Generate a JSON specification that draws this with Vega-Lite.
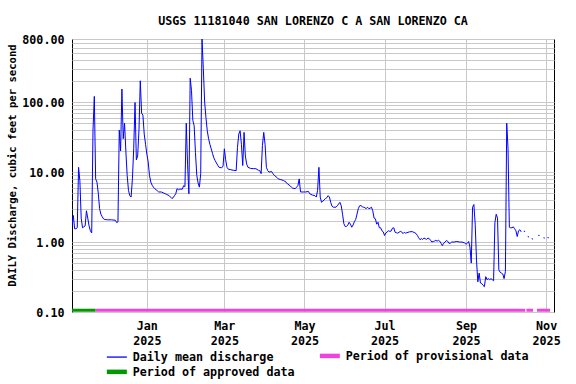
{
  "$schema": "https://vega.github.io/schema/vega-lite/v6.json",
  "width": 482,
  "height": 273,
  "autosize": "none",
  "padding": {"left": 72, "top": 39, "right": 22, "bottom": 72},
  "background": "white",
  "title": {"text": "USGS 11181040 SAN LORENZO C A SAN LORENZO CA", "font": "DejaVu Sans Mono", "fontSize": 11.7, "fontWeight": "bold", "color": "black", "anchor": "middle", "offset": 15, "dy": 18, "baseline": "alphabetic"},
  "datasets": {
    "flow": [
      {"date": "2024-11-05", "cfs": 1.7}, {"date": "2024-11-06", "cfs": 2.4}, {"date": "2024-11-07", "cfs": 1.55}, {"date": "2024-11-08", "cfs": 1.55},
      {"date": "2024-11-09", "cfs": 1.6}, {"date": "2024-11-10", "cfs": 11.7}, {"date": "2024-11-11", "cfs": 7.5}, {"date": "2024-11-12", "cfs": 2.2},
      {"date": "2024-11-13", "cfs": 1.6}, {"date": "2024-11-14", "cfs": 1.65}, {"date": "2024-11-15", "cfs": 1.7}, {"date": "2024-11-16", "cfs": 2.8},
      {"date": "2024-11-17", "cfs": 2.2}, {"date": "2024-11-18", "cfs": 1.7}, {"date": "2024-11-19", "cfs": 1.45}, {"date": "2024-11-20", "cfs": 1.35},
      {"date": "2024-11-21", "cfs": 40}, {"date": "2024-11-22", "cfs": 121}, {"date": "2024-11-23", "cfs": 8}, {"date": "2024-11-24", "cfs": 7.2},
      {"date": "2024-11-25", "cfs": 5.0}, {"date": "2024-11-26", "cfs": 3.0}, {"date": "2024-11-27", "cfs": 2.5}, {"date": "2024-11-28", "cfs": 2.3},
      {"date": "2024-11-29", "cfs": 2.15}, {"date": "2024-11-30", "cfs": 2.1}, {"date": "2024-12-02", "cfs": 2.08}, {"date": "2024-12-05", "cfs": 2.08},
      {"date": "2024-12-08", "cfs": 2.05}, {"date": "2024-12-09", "cfs": 1.9}, {"date": "2024-12-10", "cfs": 1.95}, {"date": "2024-12-11", "cfs": 40},
      {"date": "2024-12-12", "cfs": 20}, {"date": "2024-12-13", "cfs": 154}, {"date": "2024-12-14", "cfs": 30}, {"date": "2024-12-15", "cfs": 50},
      {"date": "2024-12-16", "cfs": 20}, {"date": "2024-12-17", "cfs": 9}, {"date": "2024-12-18", "cfs": 5.5}, {"date": "2024-12-19", "cfs": 4.6},
      {"date": "2024-12-20", "cfs": 4.4}, {"date": "2024-12-21", "cfs": 8}, {"date": "2024-12-22", "cfs": 22}, {"date": "2024-12-23", "cfs": 99},
      {"date": "2024-12-24", "cfs": 15}, {"date": "2024-12-25", "cfs": 17}, {"date": "2024-12-26", "cfs": 40}, {"date": "2024-12-27", "cfs": 202},
      {"date": "2024-12-28", "cfs": 70}, {"date": "2024-12-29", "cfs": 65}, {"date": "2024-12-30", "cfs": 35}, {"date": "2024-12-31", "cfs": 25},
      {"date": "2025-01-01", "cfs": 18}, {"date": "2025-01-02", "cfs": 14}, {"date": "2025-01-03", "cfs": 9}, {"date": "2025-01-04", "cfs": 7.2},
      {"date": "2025-01-05", "cfs": 6.5}, {"date": "2025-01-06", "cfs": 6.1}, {"date": "2025-01-07", "cfs": 5.8}, {"date": "2025-01-08", "cfs": 5.6},
      {"date": "2025-01-09", "cfs": 5.4}, {"date": "2025-01-10", "cfs": 5.2}, {"date": "2025-01-12", "cfs": 5.2}, {"date": "2025-01-14", "cfs": 5.0},
      {"date": "2025-01-16", "cfs": 4.8}, {"date": "2025-01-18", "cfs": 4.6}, {"date": "2025-01-20", "cfs": 4.2}, {"date": "2025-01-21", "cfs": 4.3},
      {"date": "2025-01-22", "cfs": 4.6}, {"date": "2025-01-23", "cfs": 4.9}, {"date": "2025-01-24", "cfs": 5.8}, {"date": "2025-01-25", "cfs": 5.6},
      {"date": "2025-01-26", "cfs": 5.7}, {"date": "2025-01-28", "cfs": 5.7}, {"date": "2025-01-29", "cfs": 6.4}, {"date": "2025-01-30", "cfs": 6.2},
      {"date": "2025-01-31", "cfs": 50}, {"date": "2025-02-01", "cfs": 13}, {"date": "2025-02-02", "cfs": 4.9}, {"date": "2025-02-03", "cfs": 220},
      {"date": "2025-02-04", "cfs": 146}, {"date": "2025-02-05", "cfs": 55}, {"date": "2025-02-06", "cfs": 46}, {"date": "2025-02-07", "cfs": 19},
      {"date": "2025-02-08", "cfs": 9}, {"date": "2025-02-09", "cfs": 7}, {"date": "2025-02-10", "cfs": 6.1}, {"date": "2025-02-11", "cfs": 9.5},
      {"date": "2025-02-12", "cfs": 800}, {"date": "2025-02-13", "cfs": 300}, {"date": "2025-02-14", "cfs": 100}, {"date": "2025-02-15", "cfs": 60},
      {"date": "2025-02-16", "cfs": 39}, {"date": "2025-02-17", "cfs": 30}, {"date": "2025-02-18", "cfs": 25}, {"date": "2025-02-19", "cfs": 21.5},
      {"date": "2025-02-20", "cfs": 18.5}, {"date": "2025-02-21", "cfs": 16}, {"date": "2025-02-22", "cfs": 14.6}, {"date": "2025-02-23", "cfs": 13.5},
      {"date": "2025-02-24", "cfs": 12.5}, {"date": "2025-02-25", "cfs": 11.7}, {"date": "2025-02-27", "cfs": 11.5}, {"date": "2025-02-28", "cfs": 12.2},
      {"date": "2025-03-01", "cfs": 21.5}, {"date": "2025-03-02", "cfs": 15}, {"date": "2025-03-03", "cfs": 11.7}, {"date": "2025-03-04", "cfs": 11},
      {"date": "2025-03-06", "cfs": 10.8}, {"date": "2025-03-08", "cfs": 10.6}, {"date": "2025-03-10", "cfs": 10.5}, {"date": "2025-03-11", "cfs": 22.6},
      {"date": "2025-03-12", "cfs": 35}, {"date": "2025-03-13", "cfs": 39}, {"date": "2025-03-14", "cfs": 25}, {"date": "2025-03-15", "cfs": 12.4},
      {"date": "2025-03-16", "cfs": 37}, {"date": "2025-03-17", "cfs": 17}, {"date": "2025-03-18", "cfs": 13}, {"date": "2025-03-19", "cfs": 11.7},
      {"date": "2025-03-21", "cfs": 11.3}, {"date": "2025-03-23", "cfs": 11.2}, {"date": "2025-03-25", "cfs": 11.2}, {"date": "2025-03-27", "cfs": 10.6},
      {"date": "2025-03-28", "cfs": 10.5}, {"date": "2025-03-29", "cfs": 9.5}, {"date": "2025-03-30", "cfs": 24}, {"date": "2025-03-31", "cfs": 37},
      {"date": "2025-04-01", "cfs": 25}, {"date": "2025-04-02", "cfs": 11.7}, {"date": "2025-04-03", "cfs": 10.5}, {"date": "2025-04-04", "cfs": 10},
      {"date": "2025-04-06", "cfs": 10.2}, {"date": "2025-04-07", "cfs": 9.5}, {"date": "2025-04-08", "cfs": 9.0}, {"date": "2025-04-10", "cfs": 8.4},
      {"date": "2025-04-11", "cfs": 8}, {"date": "2025-04-13", "cfs": 7.8}, {"date": "2025-04-15", "cfs": 7.6}, {"date": "2025-04-17", "cfs": 7.2},
      {"date": "2025-04-18", "cfs": 6.8}, {"date": "2025-04-20", "cfs": 6.4}, {"date": "2025-04-21", "cfs": 6.1}, {"date": "2025-04-22", "cfs": 5.9},
      {"date": "2025-04-24", "cfs": 5.8}, {"date": "2025-04-25", "cfs": 6.1}, {"date": "2025-04-26", "cfs": 6.4}, {"date": "2025-04-27", "cfs": 8},
      {"date": "2025-04-28", "cfs": 5.2}, {"date": "2025-04-30", "cfs": 5.2}, {"date": "2025-05-02", "cfs": 5.2}, {"date": "2025-05-04", "cfs": 5.3},
      {"date": "2025-05-05", "cfs": 4.9}, {"date": "2025-05-07", "cfs": 4.7}, {"date": "2025-05-09", "cfs": 4.6}, {"date": "2025-05-10", "cfs": 4.4},
      {"date": "2025-05-11", "cfs": 5.5}, {"date": "2025-05-12", "cfs": 11.7}, {"date": "2025-05-13", "cfs": 4.4}, {"date": "2025-05-14", "cfs": 3.7},
      {"date": "2025-05-15", "cfs": 3.85}, {"date": "2025-05-16", "cfs": 4.0}, {"date": "2025-05-17", "cfs": 4.2}, {"date": "2025-05-18", "cfs": 4.3},
      {"date": "2025-05-19", "cfs": 4.6}, {"date": "2025-05-20", "cfs": 4.4}, {"date": "2025-05-21", "cfs": 3.7}, {"date": "2025-05-22", "cfs": 3.25},
      {"date": "2025-05-23", "cfs": 3.15}, {"date": "2025-05-25", "cfs": 3.15}, {"date": "2025-05-26", "cfs": 3.3}, {"date": "2025-05-27", "cfs": 3.5},
      {"date": "2025-05-28", "cfs": 3.7}, {"date": "2025-05-29", "cfs": 3.3}, {"date": "2025-05-30", "cfs": 2.5}, {"date": "2025-05-31", "cfs": 1.83},
      {"date": "2025-06-01", "cfs": 1.67}, {"date": "2025-06-02", "cfs": 1.67}, {"date": "2025-06-03", "cfs": 1.75}, {"date": "2025-06-04", "cfs": 1.92},
      {"date": "2025-06-05", "cfs": 1.8}, {"date": "2025-06-06", "cfs": 1.63}, {"date": "2025-06-07", "cfs": 1.75}, {"date": "2025-06-08", "cfs": 1.95},
      {"date": "2025-06-09", "cfs": 2.1}, {"date": "2025-06-10", "cfs": 2.5}, {"date": "2025-06-11", "cfs": 3.0}, {"date": "2025-06-12", "cfs": 3.3},
      {"date": "2025-06-13", "cfs": 3.33}, {"date": "2025-06-14", "cfs": 3.2}, {"date": "2025-06-15", "cfs": 3.15}, {"date": "2025-06-16", "cfs": 3.1},
      {"date": "2025-06-17", "cfs": 3.0}, {"date": "2025-06-18", "cfs": 3.15}, {"date": "2025-06-19", "cfs": 3.0}, {"date": "2025-06-20", "cfs": 3.05},
      {"date": "2025-06-21", "cfs": 3.15}, {"date": "2025-06-22", "cfs": 2.8}, {"date": "2025-06-23", "cfs": 2.2}, {"date": "2025-06-24", "cfs": 2.15},
      {"date": "2025-06-25", "cfs": 1.8}, {"date": "2025-06-26", "cfs": 1.92}, {"date": "2025-06-27", "cfs": 1.6}, {"date": "2025-06-28", "cfs": 1.6},
      {"date": "2025-06-29", "cfs": 1.45}, {"date": "2025-06-30", "cfs": 1.4}, {"date": "2025-07-01", "cfs": 1.24}, {"date": "2025-07-02", "cfs": 1.35},
      {"date": "2025-07-03", "cfs": 1.4}, {"date": "2025-07-04", "cfs": 1.45}, {"date": "2025-07-05", "cfs": 1.42}, {"date": "2025-07-06", "cfs": 1.44},
      {"date": "2025-07-07", "cfs": 1.58}, {"date": "2025-07-08", "cfs": 1.6}, {"date": "2025-07-09", "cfs": 1.38}, {"date": "2025-07-10", "cfs": 1.36},
      {"date": "2025-07-11", "cfs": 1.34}, {"date": "2025-07-12", "cfs": 1.38}, {"date": "2025-07-13", "cfs": 1.42}, {"date": "2025-07-14", "cfs": 1.4},
      {"date": "2025-07-15", "cfs": 1.32}, {"date": "2025-07-16", "cfs": 1.38}, {"date": "2025-07-17", "cfs": 1.34}, {"date": "2025-07-18", "cfs": 1.36},
      {"date": "2025-07-20", "cfs": 1.4}, {"date": "2025-07-22", "cfs": 1.41}, {"date": "2025-07-24", "cfs": 1.36}, {"date": "2025-07-25", "cfs": 1.32},
      {"date": "2025-07-26", "cfs": 1.24}, {"date": "2025-07-27", "cfs": 1.15}, {"date": "2025-07-28", "cfs": 1.08}, {"date": "2025-07-29", "cfs": 1.12},
      {"date": "2025-07-30", "cfs": 1.09}, {"date": "2025-07-31", "cfs": 1.14}, {"date": "2025-08-01", "cfs": 1.12}, {"date": "2025-08-02", "cfs": 1.09},
      {"date": "2025-08-03", "cfs": 1.14}, {"date": "2025-08-04", "cfs": 1.12}, {"date": "2025-08-05", "cfs": 1.06}, {"date": "2025-08-06", "cfs": 1.0},
      {"date": "2025-08-07", "cfs": 1.02}, {"date": "2025-08-08", "cfs": 1.03}, {"date": "2025-08-09", "cfs": 1.06}, {"date": "2025-08-10", "cfs": 1.03},
      {"date": "2025-08-11", "cfs": 1.06}, {"date": "2025-08-12", "cfs": 1.03}, {"date": "2025-08-13", "cfs": 0.96}, {"date": "2025-08-14", "cfs": 0.89},
      {"date": "2025-08-15", "cfs": 0.96}, {"date": "2025-08-16", "cfs": 1.0}, {"date": "2025-08-17", "cfs": 1.05}, {"date": "2025-08-18", "cfs": 1.03},
      {"date": "2025-08-19", "cfs": 0.96}, {"date": "2025-08-20", "cfs": 0.96}, {"date": "2025-08-21", "cfs": 1.0}, {"date": "2025-08-23", "cfs": 1.0},
      {"date": "2025-08-25", "cfs": 1.02}, {"date": "2025-08-27", "cfs": 1.0}, {"date": "2025-08-29", "cfs": 1.0}, {"date": "2025-08-31", "cfs": 0.97},
      {"date": "2025-09-01", "cfs": 0.93}, {"date": "2025-09-02", "cfs": 0.96}, {"date": "2025-09-03", "cfs": 1.02}, {"date": "2025-09-04", "cfs": 0.85},
      {"date": "2025-09-05", "cfs": 0.5}, {"date": "2025-09-06", "cfs": 3.15}, {"date": "2025-09-07", "cfs": 3.44}, {"date": "2025-09-08", "cfs": 1.8},
      {"date": "2025-09-09", "cfs": 0.55}, {"date": "2025-09-10", "cfs": 0.27}, {"date": "2025-09-11", "cfs": 0.36}, {"date": "2025-09-12", "cfs": 0.26},
      {"date": "2025-09-13", "cfs": 0.255}, {"date": "2025-09-14", "cfs": 0.24}, {"date": "2025-09-15", "cfs": 0.23}, {"date": "2025-09-16", "cfs": 0.32},
      {"date": "2025-09-17", "cfs": 0.29}, {"date": "2025-09-18", "cfs": 0.3}, {"date": "2025-09-19", "cfs": 0.29}, {"date": "2025-09-20", "cfs": 0.3},
      {"date": "2025-09-21", "cfs": 0.29}, {"date": "2025-09-22", "cfs": 0.28}, {"date": "2025-09-23", "cfs": 1.9}, {"date": "2025-09-24", "cfs": 2.5},
      {"date": "2025-09-25", "cfs": 2.2}, {"date": "2025-09-26", "cfs": 0.4}, {"date": "2025-09-27", "cfs": 0.37}, {"date": "2025-09-28", "cfs": 0.36},
      {"date": "2025-09-29", "cfs": 0.35}, {"date": "2025-09-30", "cfs": 0.3}, {"date": "2025-10-01", "cfs": 0.38}, {"date": "2025-10-02", "cfs": 50},
      {"date": "2025-10-03", "cfs": 21.5}, {"date": "2025-10-04", "cfs": 1.63}, {"date": "2025-10-05", "cfs": 1.6}, {"date": "2025-10-06", "cfs": 1.6},
      {"date": "2025-10-07", "cfs": 1.65}, {"date": "2025-10-08", "cfs": 1.55}, {"date": "2025-10-09", "cfs": 1.45}, {"date": "2025-10-10", "cfs": 1.2},
      {"date": "2025-10-11", "cfs": 1.45}, {"date": "2025-10-12", "cfs": 1.5}, {"date": "2025-10-13", "cfs": 1.4}, {"date": "2025-10-14", "cfs": null},
      {"date": "2025-10-15", "cfs": 1.43}, {"date": "2025-10-16", "cfs": 1.42}, {"date": "2025-10-17", "cfs": null}, {"date": "2025-10-18", "cfs": 1.2},
      {"date": "2025-10-19", "cfs": 1.18}, {"date": "2025-10-20", "cfs": null}, {"date": "2025-10-21", "cfs": 1.12}, {"date": "2025-10-22", "cfs": 1.1},
      {"date": "2025-10-23", "cfs": null}, {"date": "2025-10-26", "cfs": 1.25}, {"date": "2025-10-27", "cfs": 1.24}, {"date": "2025-10-28", "cfs": null},
      {"date": "2025-10-30", "cfs": 1.15}, {"date": "2025-10-31", "cfs": 1.14}, {"date": "2025-11-01", "cfs": null}, {"date": "2025-11-02", "cfs": 1.16},
      {"date": "2025-11-03", "cfs": 1.15}
    ],
    "periods": [
      {"start": "2024-11-05", "end": "2024-11-23", "series": "Period of approved data"},
      {"start": "2024-11-23", "end": "2025-10-16", "series": "Period of provisional data"},
      {"start": "2025-10-17", "end": "2025-10-22", "series": "Period of provisional data"},
      {"start": "2025-10-25", "end": "2025-11-04", "series": "Period of provisional data"}
    ]
  },
  "layer": [
    {
      "data": {"name": "flow"},
      "mark": {"type": "line", "strokeWidth": 1, "clip": true, "invalid": "break-paths-filter-domains"},
      "encoding": {
        "x": {
          "field": "date", "type": "temporal", "title": null,
          "scale": {"type": "utc", "domain": [{"year": 2024, "month": 11, "date": 5, "utc": true}, {"year": 2025, "month": 11, "date": 7, "utc": true}]},
          "axis": {
            "values": [
              {"year": 2025, "month": 1, "date": 1, "utc": true}, {"year": 2025, "month": 3, "date": 1, "utc": true},
              {"year": 2025, "month": 5, "date": 1, "utc": true}, {"year": 2025, "month": 7, "date": 1, "utc": true},
              {"year": 2025, "month": 9, "date": 1, "utc": true}, {"year": 2025, "month": 11, "date": 1, "utc": true}
            ],
            "labelExpr": "[utcFormat(datum.value, '%b'), utcFormat(datum.value, '%Y')]",
            "labelLineHeight": 15, "labelBaseline": "top", "labelPadding": 8, "labelOverlap": false
          }
        },
        "y": {
          "field": "cfs", "type": "quantitative", "title": "DAILY Discharge, cubic feet per second",
          "scale": {"type": "log", "domain": [0.1, 800], "nice": false},
          "axis": {
            "values": [0.1, 0.2, 0.3, 0.4, 0.5, 0.6, 0.7, 0.8, 0.9, 1, 2, 3, 4, 5, 6, 7, 8, 9, 10, 20, 30, 40, 50, 60, 70, 80, 90, 100, 200, 300, 400, 500, 600, 700, 800],
            "labelExpr": "(datum.value == 0.1 || datum.value == 1 || datum.value == 10 || datum.value == 100 || datum.value == 800) ? format(datum.value, '.2f') : ''",
            "labelOverlap": false, "labelPadding": 8,
            "titleX": -60, "titleY": 126, "titleAlign": "center", "titleBaseline": "middle", "titleAngle": -90
          }
        },
        "color": {
          "datum": "Daily mean discharge",
          "title": null,
          "scale": {"domain": ["Daily mean discharge", "Period of provisional data", "Period of approved data"], "range": ["#0000ff", "#ee44dd", "#009900"]},
          "legend": {
            "title": null, "orient": "none", "legendX": 39, "legendY": 311, "columns": 2, "direction": "horizontal",
            "symbolType": "stroke", "symbolSize": 400, "rowPadding": -3, "columnPadding": 15, "padding": 0, "labelLimit": 400,
            "labelFont": "DejaVu Sans Mono", "labelFontSize": 11.7, "labelFontWeight": "bold", "labelColor": "black", "labelOffset": 10,
            "encode": {"symbols": {"update": {"strokeWidth": {"signal": "datum.value === 'Daily mean discharge' ? 1.3 : 4.5"}}}}
          }
        }
      }
    },
    {
      "data": {"name": "periods"},
      "mark": {"type": "rule", "strokeWidth": 3, "strokeCap": "butt"},
      "encoding": {
        "x": {"field": "start", "type": "temporal", "title": null},
        "x2": {"field": "end"},
        "y": {"datum": 0.106},
        "color": {"field": "series", "type": "nominal", "title": null}
      }
    }
  ],
  "config": {
    "font": "DejaVu Sans Mono",
    "view": {"stroke": "black", "strokeWidth": 1},
    "axis": {
      "grid": true, "gridColor": "#c8c8c8", "gridWidth": 1, "gridOpacity": 1,
      "ticks": false, "tickSize": 0, "domain": false,
      "labelFont": "DejaVu Sans Mono", "labelFontSize": 11.7, "labelFontWeight": "bold", "labelColor": "black",
      "titleFont": "DejaVu Sans Mono", "titleFontSize": 10.6, "titleFontWeight": "bold", "titleColor": "black"
    }
  }
}
